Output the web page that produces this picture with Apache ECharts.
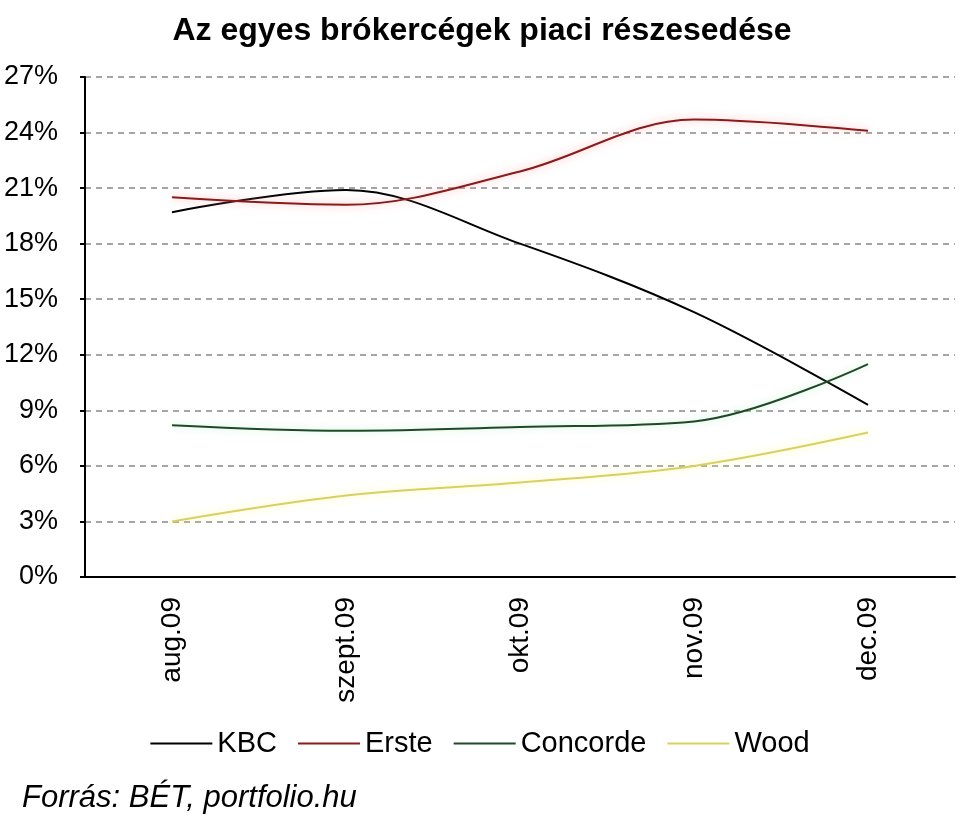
<!DOCTYPE html>
<html>
<head>
<meta charset="utf-8">
<script src="https://cdn.jsdelivr.net/npm/echarts@6/dist/echarts.min.js"></script>
<style>html,body{margin:0;padding:0;background:#fff;}#c{width:960px;height:828px;}</style>
</head>
<body>
<div id="c"></div>
<script>
const categories = ['aug.09', 'szept.09', 'okt.09', 'nov.09', 'dec.09'];
const kbc = [19.7, 20.9, 18.0, 14.3, 9.3];
const erste = [20.5, 20.1, 21.9, 24.7, 24.1];
const concorde = [8.2, 7.9, 8.1, 8.4, 11.5];
const wood = [3.0, 4.4, 5.1, 6.0, 7.8];
const yTicks = { min: 0, max: 27, interval: 3 };

const chart = echarts.init(document.getElementById('c'));
const font = 'Liberation Sans, Arial, sans-serif';
function s(name, data, color, glow) {
  return {
    name, type: 'line', data, smooth: 0.35, symbol: 'none',
    lineStyle: { color, width: 2, shadowColor: glow || 'transparent', shadowBlur: glow ? 8 : 0 },
    itemStyle: { color }
  };
}
chart.setOption({
  animation: false,
  backgroundColor: '#fff',
  title: {
    text: 'Az egyes brókercégek piaci részesedése',
    left: 477, top: 10, textAlign: 'center',
    textStyle: { fontFamily: font, fontSize: 32, fontWeight: 'bold', color: '#000' }
  },
  grid: { left: 85, right: 5, top: 77, bottom: 251, containLabel: false },
  legend: {
    top: 724, left: 'center', itemGap: 21, itemWidth: 62, itemHeight: 2, icon: 'rect',
    textStyle: { fontFamily: font, fontSize: 29, color: '#000', padding: [0, 0, 0, 0] },
    data: ['KBC', 'Erste', 'Concorde', 'Wood']
  },
  graphic: [{
    type: 'text', left: 22, top: 783,
    style: { text: 'Forrás: BÉT, portfolio.hu', fontFamily: font, fontSize: 31, fontStyle: 'italic', fill: '#000' }
  }],
  xAxis: {
    type: 'category', data: categories, boundaryGap: true,
    axisLine: { lineStyle: { color: '#000', width: 2 } },
    axisTick: { length: 8, lineStyle: { color: '#000', width: 2 } },
    axisLabel: { rotate: 90, fontFamily: font, fontSize: 28, color: '#000', margin: 20 }
  },
  yAxis: {
    type: 'value', min: yTicks.min, max: yTicks.max, interval: yTicks.interval,
    axisLine: { show: true, lineStyle: { color: '#000', width: 2 } },
    axisTick: { show: true, length: 5, lineStyle: { color: '#000', width: 2 } },
    axisLabel: { formatter: '{value}%', fontFamily: font, fontSize: 27, color: '#000', margin: 27 },
    splitLine: { lineStyle: { color: '#888', type: [6, 5], width: 1.5 } }
  },
  series: [
    s('KBC', kbc, '#000000'),
    s('Erste', erste, '#8b1a1a', 'rgba(255,150,150,0.8)'),
    s('Concorde', concorde, '#1f4a28', 'rgba(150,230,170,0.6)'),
    s('Wood', wood, '#d8d060', 'rgba(255,250,150,0.9)')
  ]
});
</script>
</body>
</html>
